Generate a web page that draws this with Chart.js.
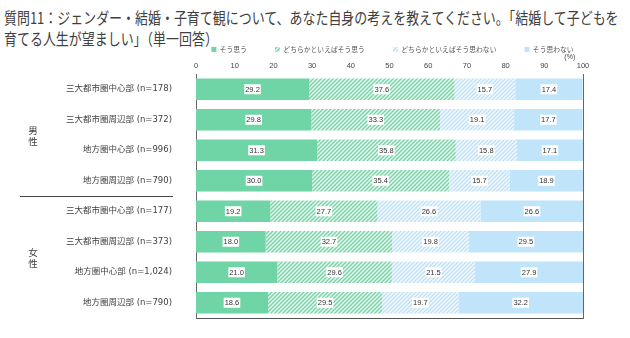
<!DOCTYPE html>
<html>
<head>
<meta charset="utf-8">
<script src="https://cdn.jsdelivr.net/npm/chart.js@4"></script>
<style>
  body { margin: 0; background: #fff; }
  #wrap { position: relative; width: 630px; height: 338px; }
  #title {
    position: absolute; left: 4px; top: 7px; white-space: nowrap;
    font-family: "Noto Sans CJK JP"; font-size: 16px; line-height: 21px; color: #404040;
    transform: scaleX(0.81); transform-origin: left top;
  }
  canvas { position: absolute; left: 0; top: 0; }
</style>
</head>
<body>
<div id="wrap">
  <div id="title">質問11：ジェンダー・結婚・子育て観について、あなた自身の考えを教えてください。「結婚して子どもを<br>育てる人生が望ましい」（単一回答）</div>
  <canvas id="myChart" width="630" height="338"></canvas>
</div>
<script>
const categories = ['三大都市圏中心部 (n=178)', '三大都市圏周辺部 (n=372)', '地方圏中心部 (n=996)', '地方圏周辺部 (n=790)',
                    '三大都市圏中心部 (n=177)', '三大都市圏周辺部 (n=373)', '地方圏中心部 (n=1,024)', '地方圏周辺部 (n=790)'];
const groups = ['男性', '女性'];
const seriesNames = ['そう思う', 'どちらかといえばそう思う', 'どちらかといえばそう思わない', 'そう思わない'];
const agree = [29.2, 29.8, 31.3, 30.0, 19.2, 18.0, 21.0, 18.6];
const somewhatAgree = [37.6, 33.3, 35.8, 35.4, 27.7, 32.7, 29.6, 29.5];
const somewhatDisagree = [15.7, 19.1, 15.8, 15.7, 26.6, 19.8, 21.5, 19.7];
const disagree = [17.4, 17.7, 17.1, 18.9, 26.6, 29.5, 27.9, 32.2];

// diagonal hatch fill
function hatch(line, bg) {
  const c = document.createElement('canvas');
  c.width = c.height = 4;
  const g = c.getContext('2d');
  g.fillStyle = bg;
  g.fillRect(0, 0, 4, 4);
  g.strokeStyle = line;
  g.lineWidth = 1.3;
  g.beginPath();
  g.moveTo(0, 4); g.lineTo(4, 0);
  g.moveTo(-1, 1); g.lineTo(1, -1);
  g.moveTo(3, 5); g.lineTo(5, 3);
  g.stroke();
  return g.createPattern(c, 'repeat');
}

const colors = ['#6fd4a6', hatch('#74d4a8', '#e6f7ef'), hatch('#bfe1f6', '#f2f9fe'), '#c0e4fa'];
const values = [agree, somewhatAgree, somewhatDisagree, disagree];

const numFont = '"Liberation Sans", "Noto Sans CJK JP"';

// value labels with a white box behind
const barLabels = {
  id: 'barLabels',
  afterDatasetsDraw(chart) {
    const ctx = chart.ctx;
    ctx.save();
    ctx.font = '7.5px ' + numFont;
    ctx.textAlign = 'center';
    ctx.textBaseline = 'middle';
    chart.data.datasets.forEach((ds, i) => {
      chart.getDatasetMeta(i).data.forEach((bar, j) => {
        const txt = ds.data[j].toFixed(1);
        const x = (bar.x + bar.base) / 2;
        const w = ctx.measureText(txt).width + 2;
        ctx.fillStyle = '#fff';
        ctx.fillRect(x - w / 2, bar.y - 5, w, 10);
        ctx.fillStyle = '#333';
        ctx.fillText(txt, x, bar.y + 0.5);
      });
    });
    ctx.restore();
  }
};

// 男性 / 女性 group labels and separator line
const groupLabels = {
  id: 'groupLabels',
  afterDraw(chart) {
    const ctx = chart.ctx;
    const y = chart.scales.y;
    ctx.save();
    ctx.font = '9.5px "Noto Sans CJK JP"';
    ctx.fillStyle = '#404040';
    ctx.textAlign = 'center';
    ctx.textBaseline = 'middle';
    groups.forEach((g, k) => {
      const mid = (y.getPixelForValue(k * 4 + 1) + y.getPixelForValue(k * 4 + 2)) / 2;
      ctx.fillText(g[0], 33, mid - 5);
      ctx.fillText(g[1], 33, mid + 6);
    });
    const sep = Math.round((y.getPixelForValue(3) + y.getPixelForValue(4)) / 2) + 0.5;
    ctx.strokeStyle = '#444';
    ctx.lineWidth = 1;
    ctx.beginPath();
    ctx.moveTo(20, sep);
    ctx.lineTo(173, sep);
    ctx.stroke();
    ctx.restore();
  }
};

// keep the legend centred over the plot area
const legendShift = {
  id: 'legendShift',
  afterLayout(chart) {
    const lg = chart.legend;
    const dx = (chart.chartArea.left + chart.chartArea.right) / 2 + 3 - (lg.left + lg.right) / 2;
    lg.left += dx;
    lg.right += dx;
  }
};

new Chart(document.getElementById('myChart'), {
  type: 'bar',
  data: {
    labels: categories,
    datasets: seriesNames.map((name, i) => ({
      label: name,
      data: values[i],
      backgroundColor: colors[i],
      borderWidth: 0,
      barPercentage: 0.7,
      categoryPercentage: 1
    }))
  },
  options: {
    indexAxis: 'y',
    responsive: false,
    animation: false,
    layout: { padding: { top: 18, right: 47, bottom: 20, left: 0 } },
    plugins: {
      legend: {
        position: 'top',
        maxHeight: 35,
        labels: {
          boxWidth: 5,
          boxHeight: 5,
          padding: 28,
          color: '#555',
          font: { size: 6.8, family: '"Noto Sans CJK JP"' }
        }
      },
      tooltip: { enabled: false }
    },
    scales: {
      x: {
        position: 'top',
        stacked: true,
        min: 0,
        max: 100,
        ticks: { stepSize: 10, padding: 3.5, color: '#444', font: { size: 7.5, family: numFont } },
        grid: { display: false, drawTicks: false },
        border: { display: false },
        title: { display: true, text: '(%)    ', align: 'end', padding: 0, color: '#444', font: { size: 7, family: numFont } },
        afterFit(scale) { scale.height = 21; }
      },
      x2: {
        position: 'bottom',
        axis: 'x',
        min: 0,
        max: 100,
        ticks: { display: false },
        grid: { drawOnChartArea: false, drawTicks: false },
        border: { display: true, color: '#555' },
        afterFit(scale) { scale.height = 0; }
      },
      y: {
        stacked: true,
        ticks: { padding: 0, color: '#404040', font: { size: 8.5, family: '"DejaVu Sans", "Noto Sans CJK JP"' } },
        grid: { drawOnChartArea: false, drawTicks: true, tickLength: 24, tickColor: 'rgba(0,0,0,0)' },
        border: { display: true, color: '#666' },
        afterFit(scale) { scale.width = 196; }
      },
      y2: {
        position: 'right',
        axis: 'y',
        type: 'category',
        labels: categories,
        ticks: { display: false, padding: 0 },
        grid: { drawOnChartArea: false, drawTicks: false },
        border: { display: true, color: '#666' },
        afterFit(scale) { scale.width = 0; }
      }
    }
  },
  plugins: [barLabels, groupLabels, legendShift]
});
</script>
</body>
</html>
